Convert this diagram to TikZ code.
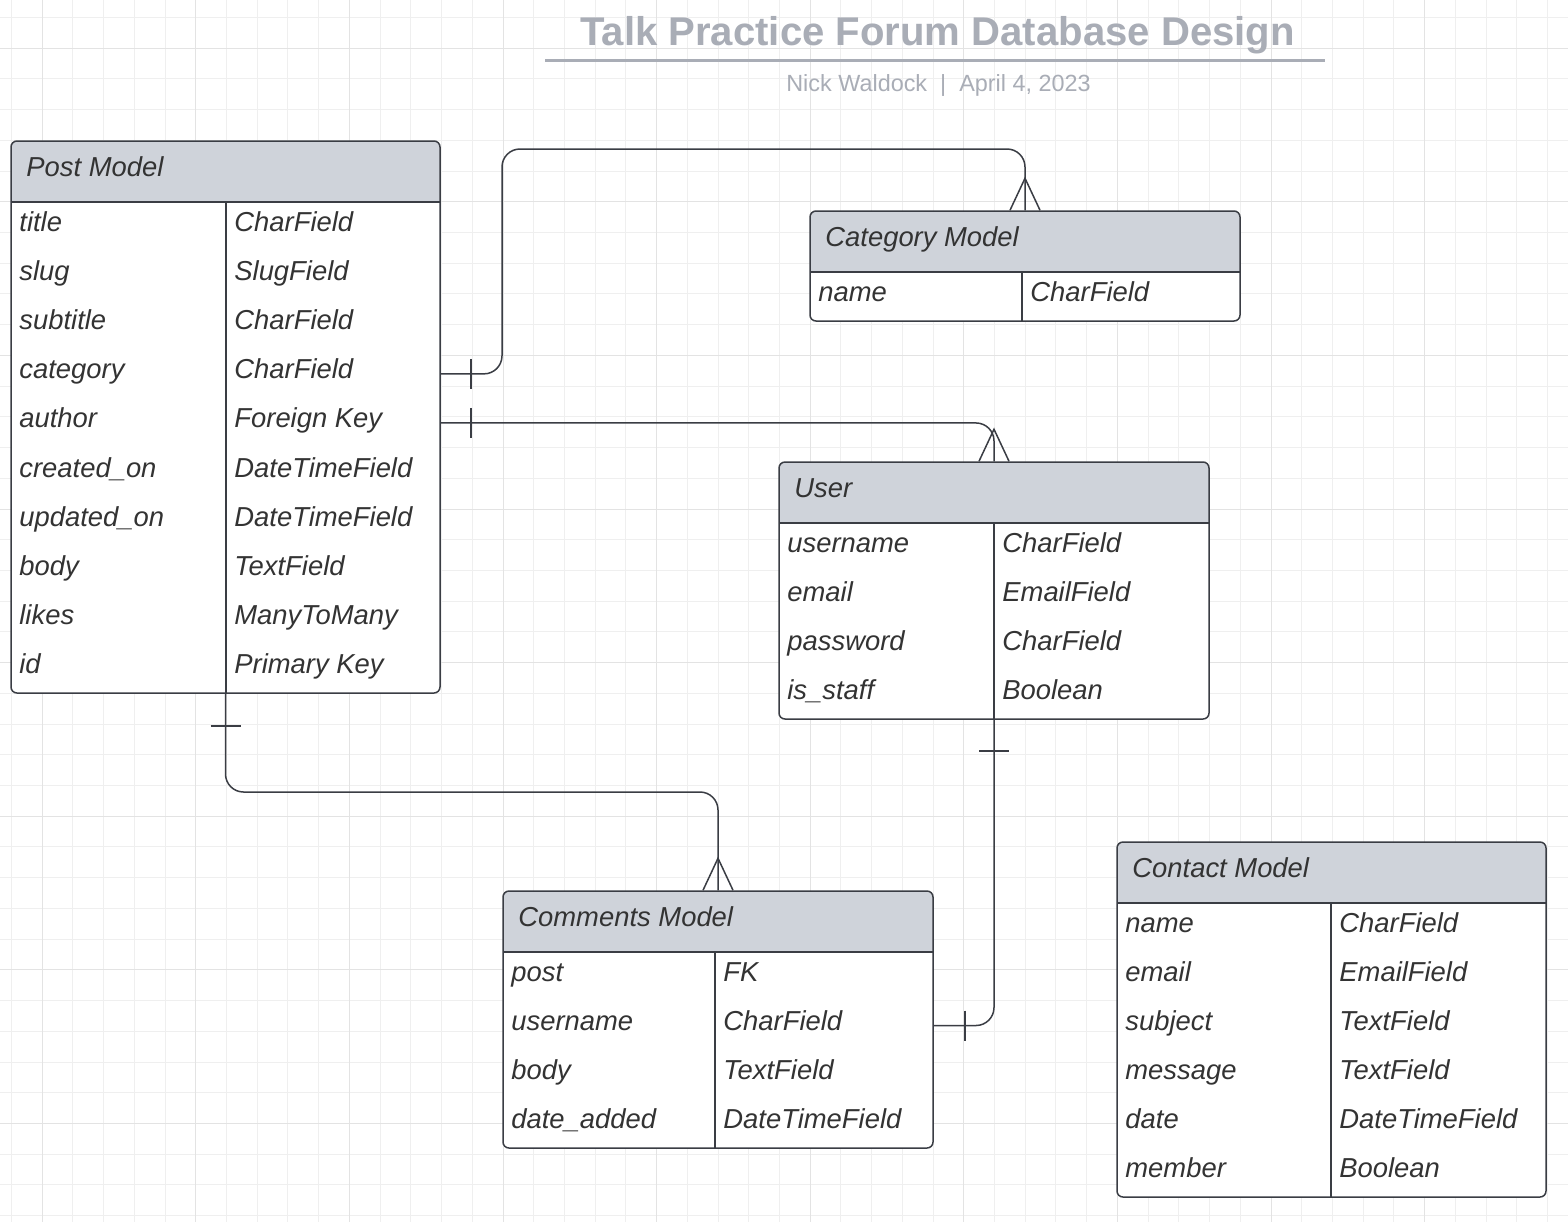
\documentclass[tikz,border=0pt]{standalone}
\usepackage{fontspec}
\setmainfont{Liberation Sans}
\usetikzlibrary{fit,calc}
\definecolor{gridminor}{HTML}{EFEFEF}
\definecolor{gridmajor}{HTML}{E3E3E3}
\definecolor{hdr}{HTML}{CFD3DA}
\definecolor{edge}{HTML}{3A3D44}
\definecolor{txt}{HTML}{333333}
\definecolor{ttl}{HTML}{A9ADB6}
\tikzset{
  tablebox/.style={draw=edge, line width=0.75pt, rounded corners=3pt, inner sep=0pt},
  rel/.style={draw=edge, line width=0.75pt},
  cell/.style={anchor=base west, inner sep=0pt, text=txt, font=\fontsize{13.7}{16}\selectfont\itshape},
}
\newcommand\ertable[9]{%
  \fill[white, rounded corners=3pt] (#2,#3) rectangle (#4,#5);
  \fill[hdr] (#2,#3+61) [rounded corners=3pt] -- (#2,#3) -- (#4,#3) [sharp corners] -- (#4,#3+61) -- cycle;
  \coordinate (#1-nw) at (#2,#3);
  \coordinate (#1-se) at (#4,#5);
  \node[tablebox, fit=(#1-nw)(#1-se)] (#1) {};
  \draw[edge, line width=1pt] (#2,#3+61) -- (#4,#3+61);
  \draw[edge, line width=0.75pt] (#6,#3+61) -- (#6,#5);
  \node[cell] (#1-title) at (#2+15,#3+35.7) {#7};
  \pgfmathsetmacro\rh{(#5-#3-61)/#8}
  \foreach [count=\i] \a/\b in {#9} {
    \pgfmathsetmacro\cy{#3+61+(\i-0.5)*\rh}
    \coordinate (#1-r\i) at (#2,\cy);
    \node[cell] (#1-n\i) at (#2+8,\cy+5) {\a};
    \node[cell] (#1-t\i) at (#6+8,\cy+5) {\b};
  }
}
\begin{document}
\begin{tikzpicture}[x=0.5pt,y=-0.5pt]
\useasboundingbox (0,0) rectangle (1568,1222);
\fill[white] (0,0) rectangle (1568,1222);
% grid
\foreach \k in {0,...,50} {
  \pgfmathtruncatemacro\m{mod(\k,5)}
  \pgfmathsetmacro\gx{11.5+30.72*\k}
  \ifnum\m=1\relax\else \draw[gridminor, line width=0.5pt] (\gx,0) -- (\gx,1222);\fi
}
\foreach \k in {0,...,39} {
  \pgfmathtruncatemacro\m{mod(\k,5)}
  \pgfmathsetmacro\gy{17.5+30.72*\k}
  \ifnum\m=1\relax\else \draw[gridminor, line width=0.5pt] (0,\gy) -- (1568,\gy);\fi
}
\foreach \k in {1,6,...,50} {
  \pgfmathsetmacro\gx{11.5+30.72*\k}
  \draw[gridmajor, line width=0.5pt] (\gx,0) -- (\gx,1222);
}
\foreach \k in {1,6,...,39} {
  \pgfmathsetmacro\gy{17.5+30.72*\k}
  \draw[gridmajor, line width=0.5pt] (0,\gy) -- (1568,\gy);
}
% title
\node[anchor=base, inner sep=0pt, text=ttl, font=\fontsize{20.05}{24}\selectfont\bfseries] (title) at (937.5,45) {Talk Practice Forum Database Design};
\draw[ttl, line width=1.5pt] (545,60) -- (1325,60);
\node[anchor=base, inner sep=0pt, text=ttl, font=\fontsize{11.7}{15}\selectfont] (subtitle) at (938.5,91.5) {Nick Waldock~~|~~April 4, 2023};
% tables
\ertable{post}{11}{141}{440}{693}{226}{Post Model}{10}{title/CharField, slug/SlugField, subtitle/CharField, category/CharField, author/Foreign Key, created\_on/DateTimeField, updated\_on/DateTimeField, body/TextField, likes/ManyToMany, id/Primary Key}
\ertable{cat}{810}{211}{1240}{321}{1022}{Category Model}{1}{name/CharField}
\ertable{user}{779}{462}{1209}{719}{994}{User}{4}{username/CharField, email/EmailField, password/CharField, is\_staff/Boolean}
\ertable{com}{503}{891}{933}{1148}{715}{Comments Model}{4}{post/FK, username/CharField, body/TextField, date\_added/DateTimeField}
\ertable{contact}{1117}{842}{1546}{1197}{1331}{Contact Model}{6}{name/CharField, email/EmailField, subject/TextField, message/TextField, date/DateTimeField, member/Boolean}
% connectors
\coordinate (c1) at (502,149);
\draw[rel, rounded corners=9pt] (post.east |- post-r4) -| (c1) -| (cat.north);
\draw[rel] ($(post.east |- post-r4)+(30,-15)$) -- ++(0,30);
\draw[rel] ($(cat.north)+(-15,0)$) -- ($(cat.north)+(0,-32)$) -- ($(cat.north)+(15,0)$);

\draw[rel, rounded corners=9pt] (post.east |- post-r5) -| (user.north);
\draw[rel] ($(post.east |- post-r5)+(30,-15)$) -- ++(0,30);
\draw[rel] ($(user.north)+(-15,0)$) -- ($(user.north)+(0,-32)$) -- ($(user.north)+(15,0)$);

\coordinate (c3) at (718,792);
\draw[rel, rounded corners=9pt] (post.south) |- (c3) -- (com.north);
\draw[rel] ($(post.south)+(-15,32)$) -- ++(30,0);
\draw[rel] ($(com.north)+(-15,0)$) -- ($(com.north)+(0,-32)$) -- ($(com.north)+(15,0)$);

\draw[rel, rounded corners=9pt] (user.south) |- (com.east |- com-r2);
\draw[rel] ($(user.south)+(-15,31)$) -- ++(30,0);
\draw[rel] ($(com.east |- com-r2)+(31,-15)$) -- ++(0,30);
\end{tikzpicture}
\end{document}
